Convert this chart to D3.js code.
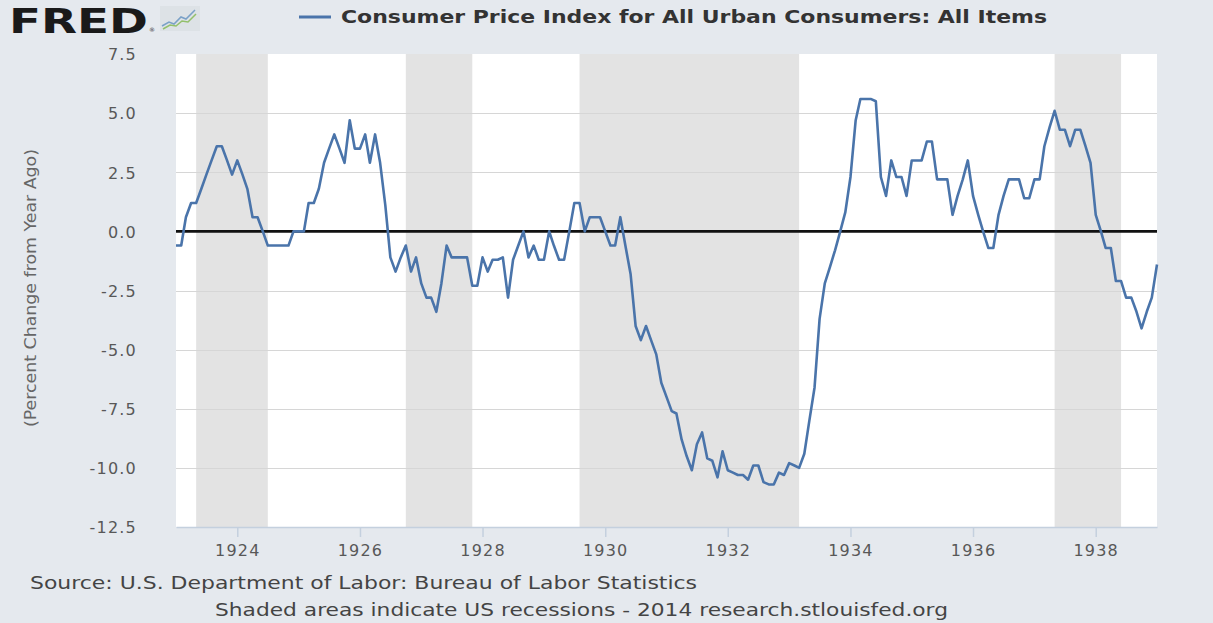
<!DOCTYPE html>
<html>
<head>
<meta charset="utf-8">
<script src="https://cdn.jsdelivr.net/npm/d3@7"></script>
<style>
  body { margin: 0; background: #e5e9ee; }
  svg { display: block; }
  text { font-family: 'DejaVu Sans', Verdana, sans-serif; }
</style>
</head>
<body>
<div id="chart"></div>
<script>
// monthly CPI change from year ago (%), Jan 1923 .. Jan 1939
const startMonth = '1923-01';
const cpi1923 = [-0.6, -0.6, 0.6, 1.2, 1.2, 1.8, 2.4, 3.0, 3.6, 3.6, 3.0, 2.4];
const cpi1924 = [3.0, 2.4, 1.8, 0.6, 0.6, 0.0, -0.6, -0.6, -0.6, -0.6, -0.6, 0.0];
const cpi1925 = [0.0, 0.0, 1.2, 1.2, 1.8, 2.9, 3.5, 4.1, 3.5, 2.9, 4.7, 3.5];
const cpi1926 = [3.5, 4.1, 2.9, 4.1, 2.9, 1.1, -1.1, -1.7, -1.1, -0.6, -1.7, -1.1];
const cpi1927 = [-2.2, -2.8, -2.8, -3.4, -2.2, -0.6, -1.1, -1.1, -1.1, -1.1, -2.3, -2.3];
const cpi1928 = [-1.1, -1.7, -1.2, -1.2, -1.1, -2.8, -1.2, -0.6, 0.0, -1.1, -0.6, -1.2];
const cpi1929 = [-1.2, 0.0, -0.6, -1.2, -1.2, 0.0, 1.2, 1.2, 0.0, 0.6, 0.6, 0.6];
const cpi1930 = [0.0, -0.6, -0.6, 0.6, -0.6, -1.8, -4.0, -4.6, -4.0, -4.6, -5.2, -6.4];
const cpi1931 = [-7.0, -7.6, -7.7, -8.8, -9.5, -10.1, -9.0, -8.5, -9.6, -9.7, -10.4, -9.3];
const cpi1932 = [-10.1, -10.2, -10.3, -10.3, -10.5, -9.9, -9.9, -10.6, -10.7, -10.7, -10.2, -10.3];
const cpi1933 = [-9.8, -9.9, -10.0, -9.4, -8.0, -6.6, -3.7, -2.2, -1.5, -0.8, 0.0, 0.8];
const cpi1934 = [2.3, 4.7, 5.6, 5.6, 5.6, 5.5, 2.3, 1.5, 3.0, 2.3, 2.3, 1.5];
const cpi1935 = [3.0, 3.0, 3.0, 3.8, 3.8, 2.2, 2.2, 2.2, 0.7, 1.5, 2.2, 3.0];
const cpi1936 = [1.5, 0.7, 0.0, -0.7, -0.7, 0.7, 1.5, 2.2, 2.2, 2.2, 1.4, 1.4];
const cpi1937 = [2.2, 2.2, 3.6, 4.4, 5.1, 4.3, 4.3, 3.6, 4.3, 4.3, 3.6, 2.9];
const cpi1938 = [0.7, 0.0, -0.7, -0.7, -2.1, -2.1, -2.8, -2.8, -3.4, -4.1, -3.4, -2.8];
const cpi1939 = [-1.4];

// recessions (peak month .. trough month)
const recessionStart = ['1923-05', '1926-10', '1929-08', '1937-05'];
const recessionEnd = ['1924-07', '1927-11', '1933-03', '1938-06'];

const yTicks = [7.5, 5.0, 2.5, 0.0, -2.5, -5.0, -7.5, -10.0, -12.5];
const xTickYears = [1924, 1926, 1928, 1930, 1932, 1934, 1936, 1938];

const seriesName = 'Consumer Price Index for All Urban Consumers: All Items';
const yLabel = '(Percent Change from Year Ago)';
const sourceText = 'Source: U.S. Department of Labor: Bureau of Labor Statistics';
const noteText = 'Shaded areas indicate US recessions - 2014 research.stlouisfed.org';

const W = 1213, H = 623;
const PLOT = { LEFT: 176, RIGHT: 1157, TOP: 54, BOTTOM: 527 };

const parseMonth = d3.timeParse('%Y-%m');
const values = [].concat(cpi1923, cpi1924, cpi1925, cpi1926, cpi1927, cpi1928, cpi1929,
   cpi1930, cpi1931, cpi1932, cpi1933, cpi1934, cpi1935, cpi1936, cpi1937, cpi1938, cpi1939);
const start = parseMonth(startMonth);
const data = values.map((v, i) => ({ date: d3.timeMonth.offset(start, i), value: v }));

const svg = d3.select('#chart')
   .append('svg')
   .attr('width', W)
   .attr('height', H);

svg.append('rect')
   .attr('width', W).attr('height', H)
   .attr('fill', '#e5e9ee');

const x = d3.scaleTime()
   .domain(d3.extent(data, d => d.date))
   .range([PLOT.LEFT, PLOT.RIGHT]);

const y = d3.scaleLinear()
   .domain([-12.5, 7.5])
   .range([PLOT.BOTTOM, PLOT.TOP]);

// plot background
svg.append('rect')
   .attr('x', PLOT.LEFT).attr('y', PLOT.TOP)
   .attr('width', PLOT.RIGHT - PLOT.LEFT)
   .attr('height', PLOT.BOTTOM - PLOT.TOP)
   .attr('fill', '#ffffff');

// recession bands
svg.append('g').selectAll('rect')
   .data(recessionStart.map((s, i) => ({ s: parseMonth(s), e: parseMonth(recessionEnd[i]) })))
   .join('rect')
   .attr('x', d => x(d.s))
   .attr('y', PLOT.TOP)
   .attr('width', d => x(d.e) - x(d.s))
   .attr('height', PLOT.BOTTOM - PLOT.TOP)
   .attr('fill', '#e3e3e3');

// grid lines
svg.append('g').selectAll('line')
   .data(yTicks.filter(t => t < 7.5 && t > -12.5 && t !== 0))
   .join('line')
   .attr('x1', PLOT.LEFT).attr('x2', PLOT.RIGHT)
   .attr('y1', d => Math.round(y(d)) + 0.5)
   .attr('y2', d => Math.round(y(d)) + 0.5)
   .attr('stroke', '#d6d6d6')
   .attr('stroke-width', 1.2);

// y axis labels (plain hyphen minus like the original)
const fmt = d3.format('.1f');
const yAxis = d3.axisLeft(y)
   .tickValues(yTicks)
   .tickFormat(d => fmt(d).replace('\u2212', '-'))
   .tickSize(0)
   .tickPadding(0);

const yAxisGroup = svg.append('g')
   .attr('transform', `translate(137,0)`)
   .call(yAxis);
yAxisGroup.select('.domain').remove();
yAxisGroup.selectAll('text')
   .attr('font-family', "'DejaVu Sans', Verdana, sans-serif")
   .attr('font-size', 16)
   .attr('letter-spacing', 1.2)
   .attr('fill', '#585858')
   .attr('dy', '0.36em');

// x axis
const xAxis = d3.axisBottom(x)
   .tickValues(xTickYears.map(yr => new Date(yr, 0, 1)))
   .tickFormat(d3.timeFormat('%Y'))
   .tickSizeInner(10)
   .tickSizeOuter(0)
   .tickPadding(8);

const xAxisGroup = svg.append('g')
   .attr('transform', `translate(0,${PLOT.BOTTOM})`)
   .call(xAxis);
xAxisGroup.select('.domain')
   .attr('stroke', '#c4d0de')
   .attr('stroke-width', 1.5);
xAxisGroup.selectAll('.tick line')
   .attr('stroke', '#c4d0de')
   .attr('stroke-width', 1.5);
xAxisGroup.selectAll('text')
   .attr('font-family', "'DejaVu Sans', Verdana, sans-serif")
   .attr('font-size', 16)
   .attr('letter-spacing', 1.2)
   .attr('fill', '#585858');

// zero line
svg.append('line')
   .attr('x1', PLOT.LEFT).attr('x2', PLOT.RIGHT)
   .attr('y1', y(0)).attr('y2', y(0))
   .attr('stroke', '#111111')
   .attr('stroke-width', 2.6);

// the series
const line = d3.line()
   .x(d => x(d.date))
   .y(d => y(d.value));

svg.append('path')
   .datum(data)
   .attr('d', line)
   .attr('fill', 'none')
   .attr('stroke', '#4a74aa')
   .attr('stroke-width', 2.6)
   .attr('stroke-linejoin', 'round');

// y axis title
svg.append('text')
   .attr('transform', 'translate(36,288) rotate(-90)')
   .attr('text-anchor', 'middle')
   .attr('font-size', 15)
   .attr('fill', '#666666')
   .attr('textLength', 278)
   .attr('lengthAdjust', 'spacingAndGlyphs')
   .text(yLabel);

// FRED logo
svg.append('text')
   .attr('x', 9).attr('y', 33)
   .attr('font-size', 34)
   .attr('font-weight', 900)
   .attr('fill', '#1a1a1a')
   .attr('textLength', 139)
   .attr('lengthAdjust', 'spacingAndGlyphs')
   .text('FRED');
svg.append('text')
   .attr('x', 149).attr('y', 32)
   .attr('font-size', 6)
   .attr('fill', '#333')
   .text('®');

const icon = svg.append('g').attr('transform', 'translate(160,6)');
icon.append('rect')
   .attr('width', 40).attr('height', 25)
   .attr('fill', '#dde2e6');
icon.append('polyline')
   .attr('points', '2,20 9,16 14,18 21,11 26,13 35,4')
   .attr('fill', 'none').attr('stroke', '#7aa1c7').attr('stroke-width', 1.5);
icon.append('polyline')
   .attr('points', '3,23 10,19 16,20 22,15 28,16 36,8')
   .attr('fill', 'none').attr('stroke', '#93c06b').attr('stroke-width', 1.5);

// legend
svg.append('line')
   .attr('x1', 299).attr('x2', 331)
   .attr('y1', 17).attr('y2', 17)
   .attr('stroke', '#4a74aa')
   .attr('stroke-width', 3);

svg.append('text')
   .attr('x', 341).attr('y', 23)
   .attr('font-size', 17)
   .attr('font-weight', 'bold')
   .attr('fill', '#333333')
   .attr('textLength', 706)
   .attr('lengthAdjust', 'spacingAndGlyphs')
   .text(seriesName);

// footer
svg.append('text')
   .attr('x', 30).attr('y', 589)
   .attr('font-size', 17)
   .attr('fill', '#444444')
   .attr('textLength', 667)
   .attr('lengthAdjust', 'spacingAndGlyphs')
   .text(sourceText);

svg.append('text')
   .attr('x', 215).attr('y', 616)
   .attr('font-size', 17)
   .attr('fill', '#444444')
   .attr('textLength', 733)
   .attr('lengthAdjust', 'spacingAndGlyphs')
   .text(noteText);
</script>
</body>
</html>
